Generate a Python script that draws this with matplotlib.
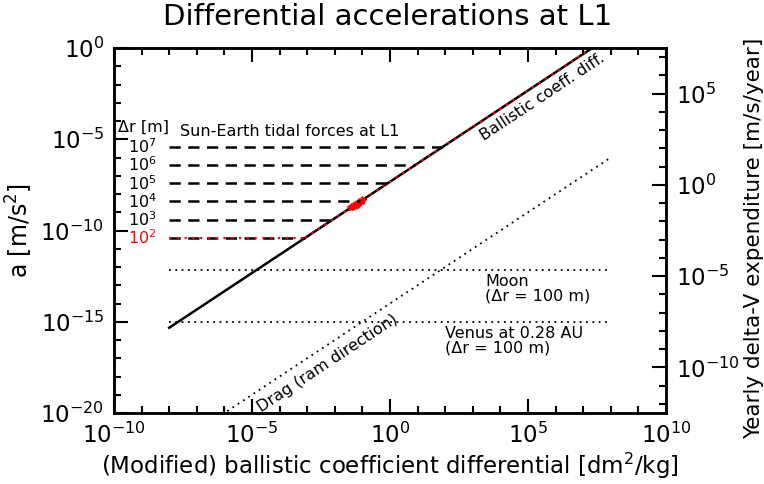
import matplotlib
matplotlib.use('Agg')
import matplotlib.pyplot as plt
import numpy as np
from matplotlib.ticker import FixedLocator, NullFormatter

# seconds in a year (right axis = a * year)
year_s = 3.156e7

# ballistic coefficient differential line
ballistic_x = [1e-8, 1e8]
ballistic_a = [4.7e-16, 4.7]
# red (dr = 100 m) part of it
red_x = [8.3e-4, 1e8]
red_a = [3.9e-11, 4.7]

# red star cluster on the line
star_x = [0.04, 0.046, 0.052, 0.058, 0.064, 0.07, 0.078, 0.088, 0.1]
star_a = [2.0e-9, 2.3e-9, 2.6e-9, 2.5e-9, 3.0e-9, 3.3e-9, 3.7e-9, 4.1e-9, 4.6e-9]

# Sun-Earth tidal forces at L1
dr_labels = ['$10^7$', '$10^6$', '$10^5$', '$10^4$', '$10^3$', '$10^2$']
tidal_a = [3.9e-6, 3.9e-7, 3.9e-8, 3.9e-9, 3.9e-10, 3.9e-11]
tidal_x0 = 1e-8
tidal_x1 = [83, 8.3, 0.83, 0.083, 0.0083, 8.3e-4]

# third-body lines
moon_a = 7e-13
venus_a = 1e-15
hline_x = [1e-8, 1e8]

# drag (ram direction)
drag_x = [1e-8, 1e8]
drag_a = [1e-22, 1e-6]

fig = plt.figure(figsize=(7.64, 4.84), dpi=100)
ax = fig.add_axes([114/764, 1-413/484, 552/764, 365/484])
ax.set_xscale('log')
ax.set_yscale('log')
ax.set_xlim(1e-10, 1e10)
ax.set_ylim(1e-20, 1e0)

lw = 1.8
dots = (0, (1, 2.5))
ax.plot(ballistic_x, ballistic_a, color='black', lw=lw)
ax.plot(red_x, red_a, color='red', lw=1.6, linestyle=dots)
ax.plot(star_x, star_a, linestyle='none', marker='*', color='red', ms=6)

fs = 11.5
for i, (a, x1) in enumerate(zip(tidal_a, tidal_x1)):
    ax.plot([tidal_x0, x1], [a, a], color='black', lw=lw, linestyle=(0, (4.5, 3)))
    col = 'red' if i == len(tidal_a) - 1 else 'black'
    if i == len(tidal_a) - 1:
        ax.plot([tidal_x0, x1], [a, a], color='red', lw=1.6, linestyle=dots)
    ax.text(10**-9.5, a, dr_labels[i], color=col, fontsize=fs,
            ha='left', va='center')

ax.plot(hline_x, [moon_a, moon_a], color='black', lw=1.3, linestyle=dots)
ax.plot(hline_x, [venus_a, venus_a], color='black', lw=1.3, linestyle=dots)
ax.plot(drag_x, drag_a, color='black', lw=1.3, linestyle=dots)

ax.text(10**-9.85, 10**-4.35, 'Δr [m]', fontsize=fs, ha='left', va='center')
ax.text(10**-7.6, 10**-4.55, 'Sun-Earth tidal forces at L1', fontsize=fs,
        ha='left', va='center')
ax.text(10**5.51, 10**-2.68, 'Ballistic coeff. diff.', fontsize=fs,
        rotation=33.5, ha='center', va='center', rotation_mode='anchor')
ax.text(10**-2.25, 10**-17.26, 'Drag (ram direction)', fontsize=fs,
        rotation=33.5, ha='center', va='center', rotation_mode='anchor')
ax.text(10**3.44, 10**-13.2, 'Moon\n(Δr = 100 m)', fontsize=fs,
        ha='left', va='center', linespacing=0.95)
ax.text(10**1.99, 10**-16.05, 'Venus at 0.28 AU\n(Δr = 100 m)', fontsize=fs,
        ha='left', va='center', linespacing=0.95)

fig.text(388/764, 1-17/484, 'Differential accelerations at L1', fontsize=21,
         ha='center', va='center')
ax.set_xlabel('(Modified) ballistic coefficient differential [dm$^2$/kg]',
              fontsize=16.5, labelpad=2)
ax.set_ylabel('a [m/s$^2$]', fontsize=17, labelpad=4)

ax.xaxis.set_major_locator(FixedLocator([10.0**p for p in range(-10, 11, 5)]))
ax.xaxis.set_minor_locator(FixedLocator([10.0**p for p in range(-10, 11)]))
ax.yaxis.set_major_locator(FixedLocator([10.0**p for p in range(-20, 1, 5)]))
ax.yaxis.set_minor_locator(FixedLocator([10.0**p for p in range(-20, 1)]))
ax.xaxis.set_minor_formatter(NullFormatter())
ax.yaxis.set_minor_formatter(NullFormatter())
ax.tick_params(which='both', direction='in', top=True, right=False,
               labelsize=16.5, width=1.5)
ax.tick_params(which='major', length=10, pad=7)
ax.tick_params(which='minor', length=5)
for s in ax.spines.values():
    s.set_linewidth(1.8)

ax2 = ax.twinx()
ax2.set_yscale('log')
ax2.set_ylim(1e-20 * year_s, 1e0 * year_s)
ax2.yaxis.set_major_locator(FixedLocator([10.0**p for p in range(-10, 6, 5)]))
ax2.yaxis.set_minor_locator(FixedLocator([10.0**p for p in range(-13, 8)]))
ax2.yaxis.set_minor_formatter(NullFormatter())
ax2.tick_params(which='both', direction='in', labelsize=16.5, width=1.5)
ax2.tick_params(which='major', length=10, pad=7)
ax2.tick_params(which='minor', length=5)
ax2.set_ylabel('Yearly delta-V expenditure [m/s/year]', fontsize=15.5)
ax2.yaxis.set_label_coords((744 - 114) / 552, (413 - 238) / 365)
for s in ax2.spines.values():
    s.set_linewidth(1.8)

fig.savefig('out.png', dpi=100)
